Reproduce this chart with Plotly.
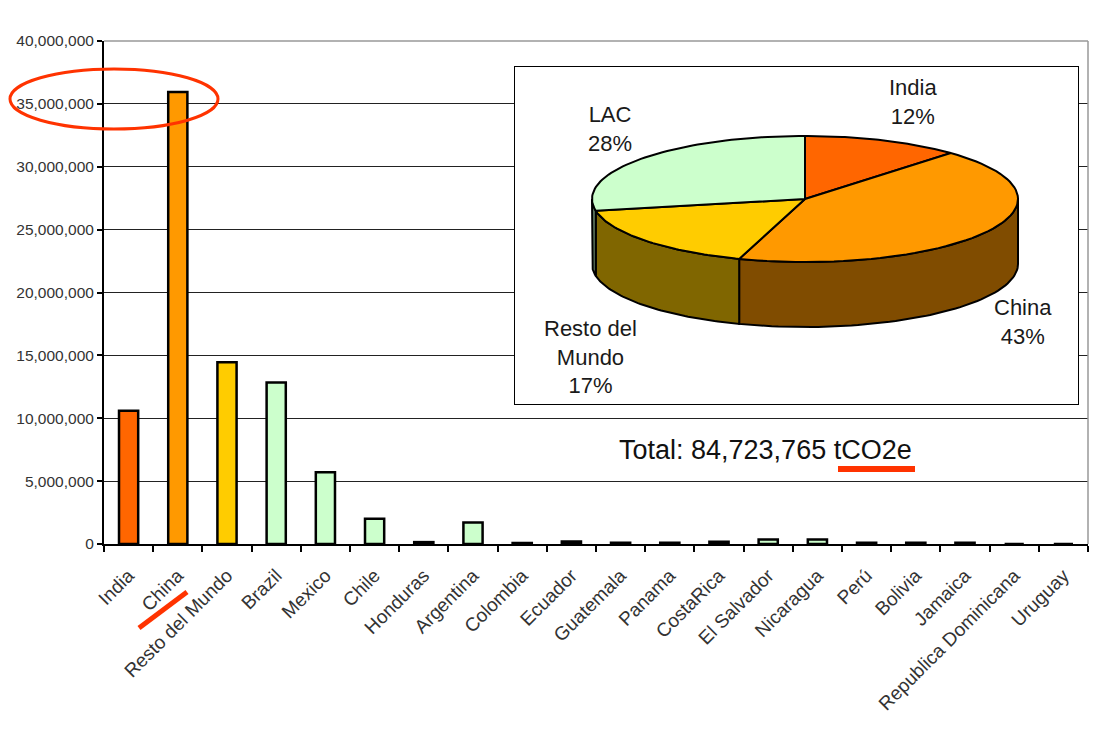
import math
import plotly.graph_objects as go

# ---- data -------------------------------------------------------------
countries = ["India", "China", "Resto del Mundo", "Brazil", "Mexico", "Chile",
             "Honduras", "Argentina", "Colombia", "Ecuador", "Guatemala", "Panama",
             "CostaRica", "El Salvador", "Nicaragua", "Perú", "Bolivia", "Jamaica",
             "Republica Dominicana", "Uruguay"]
emissions = [10600000, 35950000, 14450000, 12850000, 5700000, 2000000,
             150000, 1700000, 80000, 200000, 100000, 100000,
             180000, 350000, 350000, 100000, 100000, 100000,
             0, 0]

pie_labels = ["India", "China", "Resto del<br>Mundo", "LAC"]
pie_shares = [12, 43, 17, 28]

total_text = "Total: 84,723,765 tCO2e"

# ---- styling ----------------------------------------------------------
FONT = "Liberation Sans, Arial, sans-serif"
RED = "#FF3300"
slice_top = ["#FF6600", "#FF9900", "#FFCC00", "#CCFFCC"]
slice_side = ["#803300", "#804C00", "#806600", "#668066"]
bar_colors = ["#FF6600", "#FF9900", "#FFCC00"] + ["#CCFFCC"] * (len(countries) - 3)

W, H = 1094, 736
ML, MR, MT, MB = 104, 6, 41, 192
PW, PH = W - ML - MR, H - MT - MB


def px_x(x):
    return (x - ML) / PW


def px_y(y):
    return (H - MB - y) / PH


fig = go.Figure()

fig.add_trace(go.Bar(
    x=countries, y=emissions,
    marker=dict(color=bar_colors, line=dict(color="black", width=2.5)),
    width=0.39, showlegend=False, hoverinfo="x+y",
))

# ---- inset box with a tilted 3D pie (in pixel-like coordinates) -------
BX0, BX1, BY0, BY1 = 514, 1079, 66, 405
fig.add_trace(go.Scatter(
    x=[BX0, BX1, BX1, BX0, BX0], y=[BY0, BY0, BY1, BY1, BY0],
    xaxis="x2", yaxis="y2", mode="lines", fill="toself",
    fillcolor="white", line=dict(color="black", width=2),
    showlegend=False, hoverinfo="skip",
))

cx, cy, rx, ry, depth = 805, 199, 213, 63, 65


def pt(theta, dy=0.0):
    t = math.radians(theta)
    return cx + rx * math.sin(t), cy - ry * math.cos(t) + dy


def arc(a, b, dy=0.0, n=60):
    pts = [pt(a + (b - a) * i / n, dy) for i in range(n + 1)]
    return [p[0] for p in pts], [p[1] for p in pts]


total_share = sum(pie_shares)
bounds = []
acc = 0.0
for s in pie_shares:
    a = acc / total_share * 360
    acc += s
    bounds.append((a, acc / total_share * 360))

# visible side walls (front half of the ellipse)
for (a, b), col in zip(bounds, slice_side):
    s, e = max(a, 90), min(b, 270)
    if s >= e:
        continue
    xt, yt = arc(s, e)
    xb, yb = arc(e, s, depth)
    fig.add_trace(go.Scatter(
        x=xt + xb + [xt[0]], y=yt + yb + [yt[0]], xaxis="x2", yaxis="y2",
        mode="lines", fill="toself", fillcolor=col,
        line=dict(color="black", width=2), showlegend=False, hoverinfo="skip",
    ))

# top faces
for (a, b), col in zip(bounds, slice_top):
    xt, yt = arc(a, b)
    fig.add_trace(go.Scatter(
        x=[cx] + xt + [cx], y=[cy] + yt + [cy], xaxis="x2", yaxis="y2",
        mode="lines", fill="toself", fillcolor=col,
        line=dict(color="black", width=2), showlegend=False, hoverinfo="skip",
    ))

label_pos = [(913, 102), (1023, 322), (590, 357), (610, 129)]
annotations = []
for lab, share, (lx, ly) in zip(pie_labels, pie_shares, label_pos):
    annotations.append(dict(
        x=lx, y=ly, xref="x2", yref="y2", showarrow=False,
        xanchor="center", yanchor="middle",
        text=f"{lab}<br>{share}%", align="center",
        font=dict(family=FONT, size=22, color="#1a1a1a"),
    ))

annotations.append(dict(
    x=px_x(765), y=px_y(450), xref="paper", yref="paper", showarrow=False,
    xanchor="center", yanchor="middle",
    text=total_text, font=dict(family=FONT, size=27, color="#111"),
))

shapes = [
    # frame of the plotting area (top and right)
    dict(type="line", xref="paper", yref="paper", x0=0, x1=1, y0=1, y1=1,
         line=dict(color="#999999", width=1.5)),
    dict(type="line", xref="paper", yref="paper", x0=1, x1=1, y0=0, y1=1,
         line=dict(color="#999999", width=1.5)),
    # highlight marks
    dict(type="circle", xref="paper", yref="paper",
         x0=px_x(10), x1=px_x(218), y0=px_y(129), y1=px_y(69),
         line=dict(color=RED, width=3)),
    dict(type="line", xref="paper", yref="paper",
         x0=px_x(139), y0=px_y(628), x1=px_x(187), y1=px_y(592),
         line=dict(color=RED, width=5)),
    dict(type="line", xref="paper", yref="paper",
         x0=px_x(838), y0=px_y(469), x1=px_x(915), y1=px_y(469),
         line=dict(color=RED, width=6)),
]

fig.update_layout(
    width=W, height=H,
    margin=dict(l=ML, r=MR, t=MT, b=MB),
    paper_bgcolor="white", plot_bgcolor="white",
    font=dict(family=FONT, color="#333"),
    bargap=0.61,
    xaxis=dict(
        type="category", tickangle=-45, tickson="boundaries",
        ticks="outside", ticklen=6, tickcolor="black", tickwidth=1.5,
        ticklabelstandoff=11,
        showline=True, linecolor="black", linewidth=2,
        showgrid=False, tickfont=dict(size=19, color="#333"),
        range=[-0.5, len(countries) - 0.5],
    ),
    yaxis=dict(
        range=[0, 40000000], dtick=5000000, tickformat=",d",
        ticks="outside", ticklen=5, tickcolor="black", tickwidth=1.5,
        showline=True, linecolor="black", linewidth=2,
        showgrid=True, gridcolor="#222", gridwidth=1,
        zeroline=False, tickfont=dict(size=15.5, color="#333"),
    ),
    xaxis2=dict(domain=[px_x(BX0), px_x(BX1)], range=[BX0, BX1],
                anchor="y2", visible=False, fixedrange=True),
    yaxis2=dict(domain=[px_y(BY1), px_y(BY0)], range=[BY1, BY0],
                anchor="x2", visible=False, fixedrange=True),
    annotations=annotations,
    shapes=shapes,
)

fig.write_html("out.html")
